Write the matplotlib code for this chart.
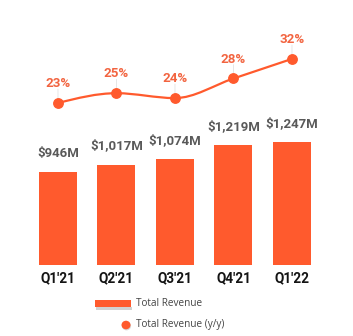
import matplotlib
matplotlib.use("Agg")
import matplotlib.pyplot as plt
from matplotlib.path import Path
from matplotlib.patches import PathPatch, Rectangle, Circle
import numpy as np

quarters = ["Q1'21", "Q2'21", "Q3'21", "Q4'21", "Q1'22"]
revenue = [946, 1017, 1074, 1219, 1247]          # $M
revenue_labels = ["$946M", "$1,017M", "$1,074M", "$1,219M", "$1,247M"]
growth = [23, 25, 24, 28, 32]                     # % y/y
growth_labels = ["23%", "25%", "24%", "28%", "32%"]

BAR = "#FF5A2D"
PCT = "#F26440"
W, H = 353, 336

fig = plt.figure(figsize=(W / 100, H / 100), dpi=100)
ax = fig.add_axes([0, 0, 1, 1])
ax.set_xlim(-0.991, 5.043)
ax.set_ylim(-721, 2690)
ax.axis("off")

x = np.arange(len(quarters))
ax.bar(x, revenue, width=0.65, color=BAR, zorder=2)
for xi, v, lab in zip(x, revenue, revenue_labels):
    ax.annotate(lab, (xi, v), xytext=(0, 11), textcoords="offset points",
                ha="center", va="baseline", fontsize=9.5, fontweight="bold",
                family="Roboto", color="#595959")
for xi, q in zip(x, quarters):
    ax.annotate(q, (xi, 0), xytext=(0, -9.5), textcoords="offset points",
                ha="center", va="center", fontsize=9.8, fontweight="bold",
                family="Roboto", color="#141414")

# growth line on its own scale
ax2 = ax.twinx()
ax2.set_position([0, 0, 1, 1])
ax2.set_xlim(-0.991, 5.043)
ax2.set_ylim(-24.55, 44.02)
ax2.axis("off")

# monotone cubic curve through the growth points
xs = x.astype(float)
ys = np.array(growth, dtype=float)
n = len(xs)
t = np.zeros(n)
for i in range(1, n - 1):
    h0, h1 = xs[i] - xs[i - 1], xs[i + 1] - xs[i]
    s0, s1 = (ys[i] - ys[i - 1]) / h0, (ys[i + 1] - ys[i]) / h1
    p = (s0 * h1 + s1 * h0) / (h0 + h1)
    t[i] = (np.sign(s0) + np.sign(s1)) * min(abs(s0), abs(s1), 0.5 * abs(p))
t[0] = (3 * (ys[1] - ys[0]) / (xs[1] - xs[0]) - t[1]) / 2
t[-1] = (3 * (ys[-1] - ys[-2]) / (xs[-1] - xs[-2]) - t[-2]) / 2
verts = [(xs[0], ys[0])]
codes = [Path.MOVETO]
for i in range(n - 1):
    dx = (xs[i + 1] - xs[i]) / 3
    verts += [(xs[i] + dx, ys[i] + dx * t[i]),
              (xs[i + 1] - dx, ys[i + 1] - dx * t[i + 1]),
              (xs[i + 1], ys[i + 1])]
    codes += [Path.CURVE4] * 3
ax2.add_patch(PathPatch(Path(verts, codes), fill=False, edgecolor=BAR,
                        linewidth=1.6, zorder=3, capstyle="round"))
ax2.plot(xs, ys, "o", color=BAR, markersize=6.8, zorder=4)
for xi, v, lab in zip(xs, ys, growth_labels):
    ax2.annotate("", (xi, v), xytext=(0, 10), textcoords="offset points",
                 arrowprops=dict(arrowstyle="-", color="#e2e2e2", lw=0.6,
                                 shrinkA=0, shrinkB=3))
    ax2.annotate(lab, (xi, v), xytext=(0, 11.5), textcoords="offset points",
                 ha="center", va="baseline", fontsize=9.6, fontweight="bold",
                 family="Roboto", color=PCT)

# legend drawn in pixel space
def px(xp, yp):
    return xp / W, 1 - yp / H

sx, sy = px(96, 310)
fig.patches.append(Rectangle((sx, sy), 36 / W, 3 / H, transform=fig.transFigure,
                             facecolor="#000000", alpha=0.18, edgecolor="none"))
rx, ry = px(95, 307)
fig.patches.append(Rectangle((rx, ry), 36 / W, 7 / H, transform=fig.transFigure,
                             facecolor=BAR, edgecolor="none"))
cx, cy = px(126.5, 326)
fig.patches.append(Circle((cx, cy), 4.6 / W, transform=fig.transFigure,
                          facecolor="#000000", alpha=0.15, edgecolor="none"))
cx, cy = px(126, 325)
fig.patches.append(Circle((cx, cy), 4.5 / W, transform=fig.transFigure,
                          facecolor=BAR, edgecolor="none"))
tx, ty = px(136, 304)
fig.text(tx, ty, "Total Revenue", ha="left", va="center", fontsize=7.2,
         family="Open Sans", color="#444444")
tx, ty = px(136, 325)
fig.text(tx, ty, "Total Revenue (y/y)", ha="left", va="center", fontsize=7.2,
         family="Open Sans", color="#444444")

fig.savefig("out.png", dpi=100)
